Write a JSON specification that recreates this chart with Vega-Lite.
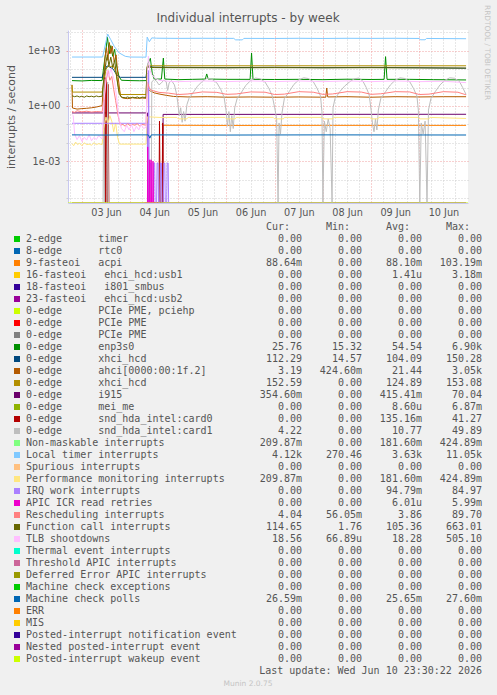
{
"$schema": "https://vega.github.io/schema/vega-lite/v6.json",
"autosize": {"type": "none"},
"width": 400,
"height": 173,
"padding": {"left": 68, "top": 30, "right": 29, "bottom": 492},
"background": "#f0f0f0",
"config": {"view": {"fill": "white", "stroke": null}, "font": "DejaVu Sans"},
"datasets": {
"series": [
{"i":0,"k":"timer","label":"2-edge\u00a0\u00a0\u00a0\u00a0\u00a0\u00a0timer","cur":"0.00\u00a0","min":"0.00\u00a0","avg":"0.00\u00a0","max":"0.00\u00a0"},
{"i":1,"k":"rtc0","label":"8-edge\u00a0\u00a0\u00a0\u00a0\u00a0\u00a0rtc0","cur":"0.00\u00a0","min":"0.00\u00a0","avg":"0.00\u00a0","max":"0.00\u00a0"},
{"i":2,"k":"acpi","label":"9-fasteoi\u00a0\u00a0\u00a0acpi","cur":"88.64m","min":"0.00\u00a0","avg":"88.10m","max":"103.19m"},
{"i":3,"k":"usb1","label":"16-fasteoi\u00a0\u00a0\u00a0ehci_hcd:usb1","cur":"0.00\u00a0","min":"0.00\u00a0","avg":"1.41u","max":"3.18m"},
{"i":4,"k":"smbus","label":"18-fasteoi\u00a0\u00a0\u00a0i801_smbus","cur":"0.00\u00a0","min":"0.00\u00a0","avg":"0.00\u00a0","max":"0.00\u00a0"},
{"i":5,"k":"usb2","label":"23-fasteoi\u00a0\u00a0\u00a0ehci_hcd:usb2","cur":"0.00\u00a0","min":"0.00\u00a0","avg":"0.00\u00a0","max":"0.00\u00a0"},
{"i":6,"k":"pme1","label":"0-edge\u00a0\u00a0\u00a0\u00a0\u00a0\u00a0PCIe PME, pciehp","cur":"0.00\u00a0","min":"0.00\u00a0","avg":"0.00\u00a0","max":"0.00\u00a0"},
{"i":7,"k":"pme2","label":"0-edge\u00a0\u00a0\u00a0\u00a0\u00a0\u00a0PCIe PME","cur":"0.00\u00a0","min":"0.00\u00a0","avg":"0.00\u00a0","max":"0.00\u00a0"},
{"i":8,"k":"pme3","label":"0-edge\u00a0\u00a0\u00a0\u00a0\u00a0\u00a0PCIe PME","cur":"0.00\u00a0","min":"0.00\u00a0","avg":"0.00\u00a0","max":"0.00\u00a0"},
{"i":9,"k":"enp","label":"0-edge\u00a0\u00a0\u00a0\u00a0\u00a0\u00a0enp3s0","cur":"25.76\u00a0","min":"15.32\u00a0","avg":"54.54\u00a0","max":"6.90k"},
{"i":10,"k":"xhci1","label":"0-edge\u00a0\u00a0\u00a0\u00a0\u00a0\u00a0xhci_hcd","cur":"112.29\u00a0","min":"14.57\u00a0","avg":"104.09\u00a0","max":"150.28\u00a0"},
{"i":11,"k":"ahci","label":"0-edge\u00a0\u00a0\u00a0\u00a0\u00a0\u00a0ahci[0000:00:1f.2]","cur":"3.19\u00a0","min":"424.60m","avg":"21.44\u00a0","max":"3.05k"},
{"i":12,"k":"xhci2","label":"0-edge\u00a0\u00a0\u00a0\u00a0\u00a0\u00a0xhci_hcd","cur":"152.59\u00a0","min":"0.00\u00a0","avg":"124.89\u00a0","max":"153.08\u00a0"},
{"i":13,"k":"i915","label":"0-edge\u00a0\u00a0\u00a0\u00a0\u00a0\u00a0i915","cur":"354.60m","min":"0.00\u00a0","avg":"415.41m","max":"70.04\u00a0"},
{"i":14,"k":"mei","label":"0-edge\u00a0\u00a0\u00a0\u00a0\u00a0\u00a0mei_me","cur":"0.00\u00a0","min":"0.00\u00a0","avg":"8.60u","max":"6.87m"},
{"i":15,"k":"card0","label":"0-edge\u00a0\u00a0\u00a0\u00a0\u00a0\u00a0snd_hda_intel:card0","cur":"0.00\u00a0","min":"0.00\u00a0","avg":"135.16m","max":"41.27\u00a0"},
{"i":16,"k":"card1","label":"0-edge\u00a0\u00a0\u00a0\u00a0\u00a0\u00a0snd_hda_intel:card1","cur":"4.22\u00a0","min":"0.00\u00a0","avg":"10.77\u00a0","max":"49.89\u00a0"},
{"i":17,"k":"nmi","label":"Non-maskable interrupts","cur":"209.87m","min":"0.00\u00a0","avg":"181.60m","max":"424.89m"},
{"i":18,"k":"loc","label":"Local timer interrupts","cur":"4.12k","min":"270.46\u00a0","avg":"3.63k","max":"11.05k"},
{"i":19,"k":"spu","label":"Spurious interrupts","cur":"0.00\u00a0","min":"0.00\u00a0","avg":"0.00\u00a0","max":"0.00\u00a0"},
{"i":20,"k":"pmi","label":"Performance monitoring interrupts","cur":"209.87m","min":"0.00\u00a0","avg":"181.60m","max":"424.89m"},
{"i":21,"k":"iwi","label":"IRQ work interrupts","cur":"0.00\u00a0","min":"0.00\u00a0","avg":"94.79m","max":"84.97\u00a0"},
{"i":22,"k":"rtr","label":"APIC ICR read retries","cur":"0.00\u00a0","min":"0.00\u00a0","avg":"6.01u","max":"5.99m"},
{"i":23,"k":"res","label":"Rescheduling interrupts","cur":"4.04\u00a0","min":"56.05m","avg":"3.86\u00a0","max":"89.70\u00a0"},
{"i":24,"k":"cal","label":"Function call interrupts","cur":"114.65\u00a0","min":"1.76\u00a0","avg":"105.36\u00a0","max":"663.01\u00a0"},
{"i":25,"k":"tlb","label":"TLB shootdowns","cur":"18.56\u00a0","min":"66.89u","avg":"18.28\u00a0","max":"505.10\u00a0"},
{"i":26,"k":"trm","label":"Thermal event interrupts","cur":"0.00\u00a0","min":"0.00\u00a0","avg":"0.00\u00a0","max":"0.00\u00a0"},
{"i":27,"k":"thr","label":"Threshold APIC interrupts","cur":"0.00\u00a0","min":"0.00\u00a0","avg":"0.00\u00a0","max":"0.00\u00a0"},
{"i":28,"k":"dfr","label":"Deferred Error APIC interrupts","cur":"0.00\u00a0","min":"0.00\u00a0","avg":"0.00\u00a0","max":"0.00\u00a0"},
{"i":29,"k":"mce","label":"Machine check exceptions","cur":"0.00\u00a0","min":"0.00\u00a0","avg":"0.00\u00a0","max":"0.00\u00a0"},
{"i":30,"k":"mcp","label":"Machine check polls","cur":"26.59m","min":"0.00\u00a0","avg":"25.65m","max":"27.60m"},
{"i":31,"k":"err","label":"ERR","cur":"0.00\u00a0","min":"0.00\u00a0","avg":"0.00\u00a0","max":"0.00\u00a0"},
{"i":32,"k":"mis","label":"MIS","cur":"0.00\u00a0","min":"0.00\u00a0","avg":"0.00\u00a0","max":"0.00\u00a0"},
{"i":33,"k":"pin","label":"Posted-interrupt notification event","cur":"0.00\u00a0","min":"0.00\u00a0","avg":"0.00\u00a0","max":"0.00\u00a0"},
{"i":34,"k":"npi","label":"Nested posted-interrupt event","cur":"0.00\u00a0","min":"0.00\u00a0","avg":"0.00\u00a0","max":"0.00\u00a0"},
{"i":35,"k":"piw","label":"Posted-interrupt wakeup event","cur":"0.00\u00a0","min":"0.00\u00a0","avg":"0.00\u00a0","max":"0.00\u00a0"}
],
"points": [
{"k":"acpi","d":4.4,"v":1e-7},{"k":"acpi","d":4.675,"v":1e-7},{"k":"acpi","d":4.685,"v":0.09},{"k":"acpi","d":6,"v":0.088},{"k":"acpi","d":8,"v":0.089},{"k":"acpi","d":10.97,"v":0.0886},

{"k":"enp","d":2.795,"v":24},{"k":"enp","d":3.0,"v":23},{"k":"enp","d":3.2,"v":24.5},{"k":"enp","d":3.42,"v":24},{"k":"enp","d":3.45,"v":115},{"k":"enp","d":3.49,"v":700},{"k":"enp","d":3.53,"v":5600},{"k":"enp","d":3.57,"v":700},{"k":"enp","d":3.6,"v":1900},{"k":"enp","d":3.64,"v":500},{"k":"enp","d":3.68,"v":1200},{"k":"enp","d":3.72,"v":150},{"k":"enp","d":3.77,"v":40},{"k":"enp","d":3.82,"v":25},{"k":"enp","d":4.0,"v":24},{"k":"enp","d":4.2,"v":23.5},{"k":"enp","d":4.34,"v":24},{"k":"enp","d":4.37,"v":200},{"k":"enp","d":4.42,"v":390},{"k":"enp","d":4.46,"v":60},{"k":"enp","d":4.5,"v":29},{"k":"enp","d":4.65,"v":29},{"k":"enp","d":4.69,"v":400},{"k":"enp","d":4.72,"v":29},{"k":"enp","d":5.0,"v":27},{"k":"enp","d":5.3,"v":28},{"k":"enp","d":5.56,"v":29},{"k":"enp","d":5.59,"v":55},{"k":"enp","d":5.62,"v":29},{"k":"enp","d":6.0,"v":28},{"k":"enp","d":6.49,"v":28},{"k":"enp","d":6.52,"v":750},{"k":"enp","d":6.55,"v":28},{"k":"enp","d":7.0,"v":27.5},{"k":"enp","d":7.5,"v":28},{"k":"enp","d":8.0,"v":27},{"k":"enp","d":8.5,"v":28.5},{"k":"enp","d":9.0,"v":27.5},{"k":"enp","d":9.27,"v":28},{"k":"enp","d":9.3,"v":480},{"k":"enp","d":9.33,"v":28},{"k":"enp","d":9.8,"v":28},{"k":"enp","d":10.3,"v":27},{"k":"enp","d":10.97,"v":26},

{"k":"xhci1","d":2.795,"v":36},{"k":"xhci1","d":3.42,"v":36},{"k":"xhci1","d":3.47,"v":80},{"k":"xhci1","d":3.52,"v":150},{"k":"xhci1","d":3.58,"v":130},{"k":"xhci1","d":3.65,"v":100},{"k":"xhci1","d":3.72,"v":50},{"k":"xhci1","d":3.8,"v":36},{"k":"xhci1","d":4.33,"v":36},{"k":"xhci1","d":4.36,"v":140},{"k":"xhci1","d":4.5,"v":128},{"k":"xhci1","d":5.0,"v":125},{"k":"xhci1","d":6.0,"v":122},{"k":"xhci1","d":7.0,"v":126},{"k":"xhci1","d":8.0,"v":121},{"k":"xhci1","d":9.0,"v":125},{"k":"xhci1","d":10.0,"v":120},{"k":"xhci1","d":10.97,"v":112},

{"k":"ahci","d":2.795,"v":14},{"k":"ahci","d":2.805,"v":0.78},{"k":"ahci","d":2.9,"v":0.68},{"k":"ahci","d":3.0,"v":0.72},{"k":"ahci","d":3.1,"v":0.75},{"k":"ahci","d":3.2,"v":0.8},{"k":"ahci","d":3.3,"v":0.88},{"k":"ahci","d":3.42,"v":1.05},{"k":"ahci","d":3.45,"v":25},{"k":"ahci","d":3.48,"v":400},{"k":"ahci","d":3.51,"v":1500},{"k":"ahci","d":3.54,"v":300},{"k":"ahci","d":3.57,"v":2800},{"k":"ahci","d":3.6,"v":700},{"k":"ahci","d":3.63,"v":1800},{"k":"ahci","d":3.67,"v":250},{"k":"ahci","d":3.71,"v":600},{"k":"ahci","d":3.75,"v":40},{"k":"ahci","d":3.8,"v":3.5},{"k":"ahci","d":3.85,"v":2.7},{"k":"ahci","d":3.95,"v":2.5},{"k":"ahci","d":4.05,"v":2.8},{"k":"ahci","d":4.15,"v":2.6},{"k":"ahci","d":4.25,"v":2.7},{"k":"ahci","d":4.33,"v":2.6},{"k":"ahci","d":4.36,"v":9},{"k":"ahci","d":4.42,"v":6.5},{"k":"ahci","d":4.5,"v":5.2},{"k":"ahci","d":4.6,"v":4.5},{"k":"ahci","d":4.75,"v":3.8},{"k":"ahci","d":4.9,"v":3.3},{"k":"ahci","d":5.2,"v":3.1},{"k":"ahci","d":5.6,"v":3.2},{"k":"ahci","d":6.0,"v":3.0},{"k":"ahci","d":6.5,"v":3.1},{"k":"ahci","d":7.0,"v":3.0},{"k":"ahci","d":7.5,"v":3.1},{"k":"ahci","d":8.06,"v":3.0},{"k":"ahci","d":8.08,"v":9.5},{"k":"ahci","d":8.1,"v":3.1},{"k":"ahci","d":8.5,"v":3.2},{"k":"ahci","d":9.0,"v":3.0},{"k":"ahci","d":9.5,"v":3.2},{"k":"ahci","d":10.0,"v":3.1},{"k":"ahci","d":10.5,"v":3.2},{"k":"ahci","d":10.97,"v":3.19},

{"k":"xhci2","d":2.795,"v":14},{"k":"xhci2","d":2.805,"v":5.7},{"k":"xhci2","d":3.42,"v":5.7},{"k":"xhci2","d":3.46,"v":20},{"k":"xhci2","d":3.5,"v":100},{"k":"xhci2","d":3.55,"v":150},{"k":"xhci2","d":3.6,"v":140},{"k":"xhci2","d":3.66,"v":150},{"k":"xhci2","d":3.71,"v":60},{"k":"xhci2","d":3.76,"v":10},{"k":"xhci2","d":3.8,"v":4.2},{"k":"xhci2","d":4.33,"v":4.2},{"k":"xhci2","d":4.355,"v":153},{"k":"xhci2","d":7,"v":152.8},{"k":"xhci2","d":10.97,"v":152.6},

{"k":"i915","d":2.795,"v":0.42},{"k":"i915","d":4.36,"v":0.42},{"k":"i915","d":4.375,"v":1e-7},{"k":"i915","d":4.675,"v":1e-7},{"k":"i915","d":4.685,"v":0.35},{"k":"i915","d":10.97,"v":0.355},

{"k":"card0","d":2.795,"v":1e-7},{"k":"card0","d":3.47,"v":1e-7},{"k":"card0","d":3.48,"v":35},{"k":"card0","d":3.495,"v":1e-7},{"k":"card0","d":3.51,"v":41},{"k":"card0","d":3.525,"v":1e-7},{"k":"card0","d":3.545,"v":15},{"k":"card0","d":3.56,"v":1e-7},{"k":"card0","d":4.6,"v":1e-7},{"k":"card0","d":4.61,"v":0.15},{"k":"card0","d":4.625,"v":1e-7},{"k":"card0","d":4.665,"v":1e-7},{"k":"card0","d":4.675,"v":0.12},{"k":"card0","d":4.69,"v":1e-7},{"k":"card0","d":10.97,"v":1e-7},

{"k":"card1","d":2.795,"v":1e-7},{"k":"card1","d":3.44,"v":1e-7},{"k":"card1","d":3.455,"v":30},{"k":"card1","d":3.47,"v":1e-7},{"k":"card1","d":3.52,"v":1e-7},{"k":"card1","d":3.535,"v":20},{"k":"card1","d":3.55,"v":1e-7},{"k":"card1","d":4.44,"v":1e-7},
{"k":"card1","d":4.45,"v":20},{"k":"card1","d":4.5,"v":28},{"k":"card1","d":4.55,"v":22},{"k":"card1","d":4.6,"v":14},{"k":"card1","d":4.65,"v":18},{"k":"card1","d":4.7,"v":26},{"k":"card1","d":4.75,"v":20},{"k":"card1","d":4.78,"v":7},{"k":"card1","d":4.81,"v":18},{"k":"card1","d":4.86,"v":24},{"k":"card1","d":4.92,"v":14},{"k":"card1","d":4.96,"v":5},{"k":"card1","d":4.99,"v":1.5},{"k":"card1","d":5.02,"v":0.3},{"k":"card1","d":5.05,"v":0.8},{"k":"card1","d":5.08,"v":0.13},{"k":"card1","d":5.11,"v":0.5},{"k":"card1","d":5.14,"v":0.15},{"k":"card1","d":5.18,"v":1.2},{"k":"card1","d":5.22,"v":2.5},
{"k":"card1","d":5.3,"v":5},{"k":"card1","d":5.4,"v":12},{"k":"card1","d":5.5,"v":22},{"k":"card1","d":5.6,"v":32},{"k":"card1","d":5.7,"v":28},{"k":"card1","d":5.8,"v":18},{"k":"card1","d":5.88,"v":8},{"k":"card1","d":5.95,"v":3},
{"k":"card1","d":5.99,"v":0.6},{"k":"card1","d":6.02,"v":0.08},{"k":"card1","d":6.05,"v":0.5},{"k":"card1","d":6.08,"v":0.04},{"k":"card1","d":6.11,"v":0.3},{"k":"card1","d":6.14,"v":0.06},{"k":"card1","d":6.17,"v":0.8},{"k":"card1","d":6.22,"v":2.5},
{"k":"card1","d":6.3,"v":5},{"k":"card1","d":6.4,"v":13},{"k":"card1","d":6.5,"v":24},{"k":"card1","d":6.6,"v":33},{"k":"card1","d":6.7,"v":30},{"k":"card1","d":6.8,"v":20},{"k":"card1","d":6.88,"v":9},{"k":"card1","d":6.95,"v":3.5},
{"k":"card1","d":7.0,"v":0.8},{"k":"card1","d":7.04,"v":0.2},{"k":"card1","d":7.07,"v":1e-7},{"k":"card1","d":7.09,"v":0.12},{"k":"card1","d":7.12,"v":0.03},{"k":"card1","d":7.15,"v":0.4},{"k":"card1","d":7.2,"v":2.5},
{"k":"card1","d":7.3,"v":6},{"k":"card1","d":7.4,"v":15},{"k":"card1","d":7.5,"v":26},{"k":"card1","d":7.6,"v":34},{"k":"card1","d":7.7,"v":31},{"k":"card1","d":7.8,"v":21},{"k":"card1","d":7.88,"v":9},{"k":"card1","d":7.95,"v":3.5},
{"k":"card1","d":7.98,"v":0.5},{"k":"card1","d":8.0,"v":1e-7},{"k":"card1","d":8.03,"v":0.15},{"k":"card1","d":8.07,"v":0.04},{"k":"card1","d":8.11,"v":0.2},{"k":"card1","d":8.15,"v":0.06},{"k":"card1","d":8.19,"v":1e-7},{"k":"card1","d":8.21,"v":0.8},{"k":"card1","d":8.25,"v":2.5},
{"k":"card1","d":8.35,"v":6},{"k":"card1","d":8.45,"v":12},{"k":"card1","d":8.55,"v":20},{"k":"card1","d":8.65,"v":30},{"k":"card1","d":8.75,"v":33},{"k":"card1","d":8.83,"v":22},{"k":"card1","d":8.9,"v":10},{"k":"card1","d":8.96,"v":4},
{"k":"card1","d":9.0,"v":0.6},{"k":"card1","d":9.03,"v":0.1},{"k":"card1","d":9.06,"v":0.04},{"k":"card1","d":9.09,"v":0.2},{"k":"card1","d":9.12,"v":0.05},{"k":"card1","d":9.15,"v":0.6},{"k":"card1","d":9.2,"v":2.5},
{"k":"card1","d":9.3,"v":6},{"k":"card1","d":9.4,"v":14},{"k":"card1","d":9.5,"v":25},{"k":"card1","d":9.6,"v":34},{"k":"card1","d":9.7,"v":31},{"k":"card1","d":9.8,"v":21},{"k":"card1","d":9.88,"v":9},{"k":"card1","d":9.95,"v":3.5},
{"k":"card1","d":9.98,"v":0.6},{"k":"card1","d":10.01,"v":1e-7},{"k":"card1","d":10.04,"v":0.12},{"k":"card1","d":10.08,"v":0.03},{"k":"card1","d":10.12,"v":0.15},{"k":"card1","d":10.16,"v":1e-7},{"k":"card1","d":10.19,"v":0.6},{"k":"card1","d":10.24,"v":2.5},
{"k":"card1","d":10.33,"v":6},{"k":"card1","d":10.43,"v":14},{"k":"card1","d":10.53,"v":25},{"k":"card1","d":10.63,"v":34},{"k":"card1","d":10.73,"v":32},{"k":"card1","d":10.83,"v":22},{"k":"card1","d":10.9,"v":10},{"k":"card1","d":10.97,"v":4.22},

{"k":"loc","d":2.795,"v":456},{"k":"loc","d":3.43,"v":456},{"k":"loc","d":3.535,"v":8100},{"k":"loc","d":3.6,"v":3950},{"k":"loc","d":3.67,"v":1750},{"k":"loc","d":3.775,"v":760},{"k":"loc","d":3.9,"v":500},{"k":"loc","d":4.0,"v":456},{"k":"loc","d":4.33,"v":450},{"k":"loc","d":4.355,"v":5500},{"k":"loc","d":4.4,"v":3100},{"k":"loc","d":4.45,"v":5000},{"k":"loc","d":4.55,"v":4800},{"k":"loc","d":5.0,"v":4700},{"k":"loc","d":5.5,"v":4750},{"k":"loc","d":6.15,"v":4700},{"k":"loc","d":6.19,"v":3900},{"k":"loc","d":6.33,"v":3900},{"k":"loc","d":6.36,"v":4700},{"k":"loc","d":7.0,"v":4650},{"k":"loc","d":7.5,"v":4750},{"k":"loc","d":8.0,"v":4650},{"k":"loc","d":8.5,"v":4750},{"k":"loc","d":9.0,"v":4700},{"k":"loc","d":9.5,"v":4750},{"k":"loc","d":10.0,"v":4650},{"k":"loc","d":10.02,"v":3950},{"k":"loc","d":10.12,"v":3950},{"k":"loc","d":10.15,"v":4650},{"k":"loc","d":10.97,"v":4500},

{"k":"pmi","d":2.795,"v":0.009},{"k":"pmi","d":2.83,"v":0.007},{"k":"pmi","d":2.87,"v":0.011},{"k":"pmi","d":2.91,"v":0.008},{"k":"pmi","d":2.95,"v":0.0095},{"k":"pmi","d":3.0,"v":0.007},{"k":"pmi","d":3.05,"v":0.01},{"k":"pmi","d":3.1,"v":0.008},{"k":"pmi","d":3.15,"v":0.0085},{"k":"pmi","d":3.2,"v":0.0075},{"k":"pmi","d":3.25,"v":0.01},{"k":"pmi","d":3.3,"v":0.008},{"k":"pmi","d":3.35,"v":0.009},{"k":"pmi","d":3.42,"v":0.008},{"k":"pmi","d":3.45,"v":0.06},{"k":"pmi","d":3.5,"v":0.25},{"k":"pmi","d":3.54,"v":0.1},{"k":"pmi","d":3.58,"v":0.3},{"k":"pmi","d":3.62,"v":0.15},{"k":"pmi","d":3.66,"v":0.04},{"k":"pmi","d":3.7,"v":0.12},{"k":"pmi","d":3.74,"v":0.02},{"k":"pmi","d":3.78,"v":0.0085},{"k":"pmi","d":4.33,"v":0.0085},{"k":"pmi","d":4.36,"v":0.26},{"k":"pmi","d":4.6,"v":0.24},{"k":"pmi","d":4.97,"v":0.24},{"k":"pmi","d":5.0,"v":0.2},{"k":"pmi","d":5.18,"v":0.2},{"k":"pmi","d":5.2,"v":0.24},{"k":"pmi","d":5.97,"v":0.24},{"k":"pmi","d":6.0,"v":0.2},{"k":"pmi","d":6.18,"v":0.2},{"k":"pmi","d":6.2,"v":0.24},{"k":"pmi","d":6.97,"v":0.24},{"k":"pmi","d":7.0,"v":0.2},{"k":"pmi","d":7.18,"v":0.2},{"k":"pmi","d":7.2,"v":0.24},{"k":"pmi","d":7.97,"v":0.24},{"k":"pmi","d":8.0,"v":0.2},{"k":"pmi","d":8.2,"v":0.2},{"k":"pmi","d":8.22,"v":0.24},{"k":"pmi","d":8.98,"v":0.24},{"k":"pmi","d":9.0,"v":0.2},{"k":"pmi","d":9.14,"v":0.2},{"k":"pmi","d":9.16,"v":0.24},{"k":"pmi","d":9.97,"v":0.24},{"k":"pmi","d":10.0,"v":0.2},{"k":"pmi","d":10.2,"v":0.2},{"k":"pmi","d":10.22,"v":0.24},{"k":"pmi","d":10.97,"v":0.21},

{"k":"iwi","d":2.795,"v":0.115},{"k":"iwi","d":4.355,"v":0.115},{"k":"iwi","d":4.37,"v":1e-7},{"k":"iwi","d":4.385,"v":85},{"k":"iwi","d":4.4,"v":1e-7},{"k":"iwi","d":4.42,"v":0.0008},{"k":"iwi","d":4.44,"v":0.0008},{"k":"iwi","d":4.45,"v":1e-7},{"k":"iwi","d":4.48,"v":1e-7},{"k":"iwi","d":4.49,"v":0.0008},{"k":"iwi","d":4.51,"v":0.0008},{"k":"iwi","d":4.52,"v":1e-7},{"k":"iwi","d":4.55,"v":1e-7},{"k":"iwi","d":4.56,"v":0.0008},{"k":"iwi","d":4.58,"v":0.0008},{"k":"iwi","d":4.59,"v":1e-7},{"k":"iwi","d":4.62,"v":1e-7},{"k":"iwi","d":4.63,"v":0.0008},{"k":"iwi","d":4.65,"v":0.0008},{"k":"iwi","d":4.66,"v":1e-7},{"k":"iwi","d":4.69,"v":1e-7},{"k":"iwi","d":4.7,"v":0.0008},{"k":"iwi","d":4.72,"v":0.0008},{"k":"iwi","d":4.73,"v":1e-7},{"k":"iwi","d":4.76,"v":1e-7},{"k":"iwi","d":4.77,"v":0.0008},{"k":"iwi","d":4.79,"v":0.0008},{"k":"iwi","d":4.8,"v":1e-7},{"k":"iwi","d":10.97,"v":1e-7},

{"k":"rtr","d":4.3,"v":1e-7},{"k":"rtr","d":4.36,"v":1e-7},{"k":"rtr","d":4.365,"v":0.006},{"k":"rtr","d":4.375,"v":1e-7},{"k":"rtr","d":4.4,"v":1e-7},{"k":"rtr","d":4.405,"v":0.0012},{"k":"rtr","d":4.415,"v":1e-7},{"k":"rtr","d":4.43,"v":1e-7},{"k":"rtr","d":4.435,"v":0.0012},{"k":"rtr","d":4.445,"v":1e-7},{"k":"rtr","d":4.47,"v":1e-7},{"k":"rtr","d":4.475,"v":0.001},{"k":"rtr","d":4.485,"v":1e-7},{"k":"rtr","d":4.6,"v":1e-7},

{"k":"res","d":2.795,"v":0.5},{"k":"res","d":2.85,"v":0.45},{"k":"res","d":2.9,"v":0.55},{"k":"res","d":3.0,"v":0.48},{"k":"res","d":3.1,"v":0.52},{"k":"res","d":3.2,"v":0.47},{"k":"res","d":3.3,"v":0.5},{"k":"res","d":3.42,"v":0.48},{"k":"res","d":3.46,"v":3},{"k":"res","d":3.5,"v":20},{"k":"res","d":3.54,"v":85},{"k":"res","d":3.58,"v":25},{"k":"res","d":3.62,"v":40},{"k":"res","d":3.66,"v":8},{"k":"res","d":3.7,"v":2},{"k":"res","d":3.75,"v":0.3},{"k":"res","d":3.8,"v":0.09},{"k":"res","d":3.85,"v":0.1},{"k":"res","d":3.9,"v":0.08},{"k":"res","d":3.95,"v":0.11},{"k":"res","d":4.0,"v":0.085},{"k":"res","d":4.05,"v":0.1},{"k":"res","d":4.1,"v":0.09},{"k":"res","d":4.15,"v":0.11},{"k":"res","d":4.2,"v":0.08},{"k":"res","d":4.25,"v":0.1},{"k":"res","d":4.33,"v":0.09},{"k":"res","d":4.36,"v":20},{"k":"res","d":4.4,"v":9},{"k":"res","d":4.45,"v":7},{"k":"res","d":4.5,"v":6.5},{"k":"res","d":4.6,"v":5.5},{"k":"res","d":4.8,"v":5},{"k":"res","d":5.0,"v":4.2},{"k":"res","d":5.2,"v":4.5},{"k":"res","d":5.5,"v":5.8},{"k":"res","d":5.8,"v":5.5},{"k":"res","d":6.0,"v":4.3},{"k":"res","d":6.2,"v":4.5},{"k":"res","d":6.5,"v":5.8},{"k":"res","d":6.8,"v":5.6},{"k":"res","d":7.0,"v":4.2},{"k":"res","d":7.2,"v":4.4},{"k":"res","d":7.5,"v":6},{"k":"res","d":7.8,"v":5.6},{"k":"res","d":8.0,"v":4.3},{"k":"res","d":8.2,"v":4.5},{"k":"res","d":8.5,"v":6},{"k":"res","d":8.8,"v":5.7},{"k":"res","d":9.0,"v":4.3},{"k":"res","d":9.2,"v":4.6},{"k":"res","d":9.5,"v":6},{"k":"res","d":9.8,"v":5.8},{"k":"res","d":10.0,"v":4.2},{"k":"res","d":10.2,"v":4.4},{"k":"res","d":10.5,"v":6},{"k":"res","d":10.8,"v":5.6},{"k":"res","d":10.97,"v":4.04},

{"k":"cal","d":2.795,"v":3.6},{"k":"cal","d":2.85,"v":3.2},{"k":"cal","d":2.9,"v":3.5},{"k":"cal","d":2.95,"v":3.1},{"k":"cal","d":3.0,"v":3.4},{"k":"cal","d":3.05,"v":3.0},{"k":"cal","d":3.1,"v":3.5},{"k":"cal","d":3.15,"v":3.2},{"k":"cal","d":3.2,"v":3.4},{"k":"cal","d":3.25,"v":3.1},{"k":"cal","d":3.3,"v":3.5},{"k":"cal","d":3.35,"v":3.2},{"k":"cal","d":3.42,"v":3.4},{"k":"cal","d":3.46,"v":40},{"k":"cal","d":3.5,"v":250},{"k":"cal","d":3.53,"v":600},{"k":"cal","d":3.56,"v":150},{"k":"cal","d":3.6,"v":450},{"k":"cal","d":3.64,"v":120},{"k":"cal","d":3.68,"v":300},{"k":"cal","d":3.72,"v":40},{"k":"cal","d":3.77,"v":5},{"k":"cal","d":3.82,"v":3.0},{"k":"cal","d":3.9,"v":2.8},{"k":"cal","d":3.95,"v":3.1},{"k":"cal","d":4.0,"v":2.7},{"k":"cal","d":4.05,"v":3.0},{"k":"cal","d":4.1,"v":2.8},{"k":"cal","d":4.15,"v":3.1},{"k":"cal","d":4.2,"v":2.7},{"k":"cal","d":4.25,"v":3.0},{"k":"cal","d":4.33,"v":2.9},{"k":"cal","d":4.355,"v":130},{"k":"cal","d":4.5,"v":122},{"k":"cal","d":5.0,"v":120},{"k":"cal","d":6.0,"v":118},{"k":"cal","d":7.0,"v":121},{"k":"cal","d":8.0,"v":118},{"k":"cal","d":9.0,"v":120},{"k":"cal","d":10.0,"v":117},{"k":"cal","d":10.97,"v":114.65},

{"k":"tlb","d":2.795,"v":0.35},{"k":"tlb","d":2.82,"v":0.3},{"k":"tlb","d":2.85,"v":0.03},{"k":"tlb","d":2.9,"v":0.015},{"k":"tlb","d":2.95,"v":0.025},{"k":"tlb","d":3.0,"v":0.012},{"k":"tlb","d":3.05,"v":0.02},{"k":"tlb","d":3.1,"v":0.014},{"k":"tlb","d":3.15,"v":0.028},{"k":"tlb","d":3.2,"v":0.013},{"k":"tlb","d":3.25,"v":0.02},{"k":"tlb","d":3.3,"v":0.015},{"k":"tlb","d":3.35,"v":0.025},{"k":"tlb","d":3.42,"v":0.016},{"k":"tlb","d":3.46,"v":2},{"k":"tlb","d":3.5,"v":30},{"k":"tlb","d":3.53,"v":90},{"k":"tlb","d":3.56,"v":40},{"k":"tlb","d":3.6,"v":110},{"k":"tlb","d":3.64,"v":50},{"k":"tlb","d":3.68,"v":20},{"k":"tlb","d":3.72,"v":3},{"k":"tlb","d":3.77,"v":0.2},{"k":"tlb","d":3.82,"v":0.06},{"k":"tlb","d":3.88,"v":0.04},{"k":"tlb","d":3.93,"v":0.09},{"k":"tlb","d":3.98,"v":0.05},{"k":"tlb","d":4.03,"v":0.1},{"k":"tlb","d":4.08,"v":0.04},{"k":"tlb","d":4.13,"v":0.08},{"k":"tlb","d":4.18,"v":0.05},{"k":"tlb","d":4.23,"v":0.1},{"k":"tlb","d":4.28,"v":0.06},{"k":"tlb","d":4.33,"v":0.07},{"k":"tlb","d":4.36,"v":60},{"k":"tlb","d":4.38,"v":505},{"k":"tlb","d":4.41,"v":90},{"k":"tlb","d":4.45,"v":50},{"k":"tlb","d":4.5,"v":35},{"k":"tlb","d":4.6,"v":25},{"k":"tlb","d":4.8,"v":22},{"k":"tlb","d":5.0,"v":21},{"k":"tlb","d":5.5,"v":23},{"k":"tlb","d":6.0,"v":21},{"k":"tlb","d":6.5,"v":23},{"k":"tlb","d":7.0,"v":21},{"k":"tlb","d":7.5,"v":23},{"k":"tlb","d":8.0,"v":21},{"k":"tlb","d":8.5,"v":23},{"k":"tlb","d":9.0,"v":21},{"k":"tlb","d":9.5,"v":23},{"k":"tlb","d":10.0,"v":21},{"k":"tlb","d":10.5,"v":22},{"k":"tlb","d":10.97,"v":18.56},

{"k":"mcp","d":2.795,"v":0.027},{"k":"mcp","d":3.5,"v":0.0265},{"k":"mcp","d":4.0,"v":0.027},{"k":"mcp","d":4.38,"v":0.027},{"k":"mcp","d":4.41,"v":0.018},{"k":"mcp","d":4.44,"v":0.027},{"k":"mcp","d":6.0,"v":0.0265},{"k":"mcp","d":8.0,"v":0.027},{"k":"mcp","d":10.97,"v":0.0266},

{"k":"piw","d":2.712,"v":1e-7},{"k":"piw","d":11.01,"v":1e-7}
]
},
"resolve": {"scale": {"x": "independent", "y": "independent"}},
"layer": [
{
"data": {"name": "points"},
"mark": {"type": "line", "strokeWidth": 1, "clip": true},
"encoding": {
"x": {"field": "d", "type": "quantitative", "scale": {"domain": [2.712, 11.01], "nice": false, "zero": false},
"axis": {"title": null, "values": [2.75,3,3.25,3.5,3.75,4,4.25,4.5,4.75,5,5.25,5.5,5.75,6,6.25,6.5,6.75,7,7.25,7.5,7.75,8,8.25,8.5,8.75,9,9.25,9.5,9.75,10,10.25,10.5,10.75],
"labelExpr": "datum.value % 1 == 0.5 ? ((datum.value < 10 ? '0' : '') + floor(datum.value) + ' Jun') : ''",
"labelFont": "DejaVu Sans", "labelFontSize": 9.7, "labelColor": "#555555", "labelPadding": 4, "labelOverlap": false, "labelFlush": false,
"ticks": false, "domainColor": "#c8c8f0", "domainWidth": 1,
"grid": true, "gridDash": [1, 2], "gridWidth": 1,
"gridColor": {"condition": {"test": "datum.value % 1 == 0", "value": "#f0a0a0"}, "value": "#cfcfcf"}}},
"y": {"field": "v", "type": "quantitative", "scale": {"type": "log", "domain": [5.4e-6, 13400], "nice": false, "clamp": true},
"axis": {"title": "interrupts / second", "titleFont": "DejaVu Sans", "titleFontSize": 11, "titleFontWeight": "normal", "titleColor": "#555555", "titleX": -57, "titleY": 86.5, "titleAngle": 270, "titleBaseline": "middle", "titleAlign": "center",
"values": [0.00001, 0.0001, 0.001, 0.01, 0.1, 1, 10, 100, 1000, 10000],
"labelExpr": "datum.value > 999 && datum.value < 1001 ? '1e+03' : (datum.value > 0.999 && datum.value < 1.001 ? '1e+00' : (datum.value > 0.000999 && datum.value < 0.001001 ? '1e-03' : ''))",
"labelFont": "DejaVu Sans", "labelFontSize": 9.7, "labelColor": "#555555", "labelPadding": 6, "labelOverlap": false, "labelFlush": false,
"ticks": true, "tickSize": 2, "tickColor": {"condition": {"test": "(datum.value > 999 && datum.value < 1001) || (datum.value > 0.999 && datum.value < 1.001) || (datum.value > 0.000999 && datum.value < 0.001001)", "value": "#f0a0a0"}, "value": "#cfcfcf"},
"domainColor": "#c8c8f0", "domainWidth": 1,
"grid": true, "gridDash": [1, 2], "gridWidth": 1,
"gridColor": {"condition": {"test": "(datum.value > 999 && datum.value < 1001) || (datum.value > 0.999 && datum.value < 1.001) || (datum.value > 0.000999 && datum.value < 0.001001)", "value": "#f0a0a0"}, "value": "#cfcfcf"}}},
"color": {"field": "k", "type": "nominal", "legend": null,
"scale": {"domain": ["timer","rtc0","acpi","usb1","smbus","usb2","pme1","pme2","pme3","enp","xhci1","ahci","xhci2","i915","mei","card0","card1","nmi","loc","spu","pmi","iwi","rtr","res","cal","tlb","trm","thr","dfr","mce","mcp","err","mis","pin","npi","piw"],
"range": ["#00CC00","#0066B3","#FF8000","#FFCC00","#330099","#990099","#CCFF00","#FF0000","#808080","#008F00","#00487D","#B35A00","#B38F00","#6B006B","#8FB300","#B30000","#BEBEBE","#80FF80","#80C9FF","#FFC080","#FFE680","#AA80FF","#EE00CC","#FF8080","#666600","#FFBFFF","#00FFCC","#CC6699","#999900","#00CC00","#0066B3","#FF8000","#FFCC00","#330099","#990099","#CCFF00"]}}
}
},
{
"data": {"name": "series"},
"layer": [
{
"mark": {"type": "square", "size": 36, "filled": true, "opacity": 1},
"encoding": {
"x": {"datum": -1.5, "type": "quantitative", "scale": {"domain": [0, 76], "range": [-42, 414], "nice": false, "zero": false}, "axis": null},
"y": {"field": "i", "type": "quantitative", "scale": {"domain": [0, 36], "range": [209, 641], "nice": false, "zero": false}, "axis": null},
"color": {"field": "k", "type": "nominal", "legend": null}
}
},
{
"mark": {"type": "text", "align": "left", "baseline": "middle", "font": "DejaVu Sans Mono", "fontSize": 10, "color": "#555555"},
"encoding": {"x": {"datum": 0, "type": "quantitative"}, "y": {"field": "i", "type": "quantitative"}, "text": {"field": "label"}}
},
{
"mark": {"type": "text", "align": "right", "baseline": "middle", "font": "DejaVu Sans Mono", "fontSize": 10, "color": "#555555"},
"encoding": {"x": {"datum": 46, "type": "quantitative"}, "y": {"field": "i", "type": "quantitative"}, "text": {"field": "cur"}}
},
{
"mark": {"type": "text", "align": "right", "baseline": "middle", "font": "DejaVu Sans Mono", "fontSize": 10, "color": "#555555"},
"encoding": {"x": {"datum": 56, "type": "quantitative"}, "y": {"field": "i", "type": "quantitative"}, "text": {"field": "min"}}
},
{
"mark": {"type": "text", "align": "right", "baseline": "middle", "font": "DejaVu Sans Mono", "fontSize": 10, "color": "#555555"},
"encoding": {"x": {"datum": 66, "type": "quantitative"}, "y": {"field": "i", "type": "quantitative"}, "text": {"field": "avg"}}
},
{
"mark": {"type": "text", "align": "right", "baseline": "middle", "font": "DejaVu Sans Mono", "fontSize": 10, "color": "#555555"},
"encoding": {"x": {"datum": 76, "type": "quantitative"}, "y": {"field": "i", "type": "quantitative"}, "text": {"field": "max"}}
},
{
"data": {"values": [{"h": "Cur:"}]},
"mark": {"type": "text", "align": "right", "baseline": "middle", "font": "DejaVu Sans Mono", "fontSize": 10, "color": "#555555"},
"encoding": {"x": {"datum": 44, "type": "quantitative"}, "y": {"datum": -1, "type": "quantitative"}, "text": {"field": "h"}}
},
{
"data": {"values": [{"h": "Min:"}]},
"mark": {"type": "text", "align": "right", "baseline": "middle", "font": "DejaVu Sans Mono", "fontSize": 10, "color": "#555555"},
"encoding": {"x": {"datum": 54, "type": "quantitative"}, "y": {"datum": -1, "type": "quantitative"}, "text": {"field": "h"}}
},
{
"data": {"values": [{"h": "Avg:"}]},
"mark": {"type": "text", "align": "right", "baseline": "middle", "font": "DejaVu Sans Mono", "fontSize": 10, "color": "#555555"},
"encoding": {"x": {"datum": 64, "type": "quantitative"}, "y": {"datum": -1, "type": "quantitative"}, "text": {"field": "h"}}
},
{
"data": {"values": [{"h": "Max:"}]},
"mark": {"type": "text", "align": "right", "baseline": "middle", "font": "DejaVu Sans Mono", "fontSize": 10, "color": "#555555"},
"encoding": {"x": {"datum": 74, "type": "quantitative"}, "y": {"datum": -1, "type": "quantitative"}, "text": {"field": "h"}}
},
{
"data": {"values": [{"t": "Last update: Wed Jun 10 23:30:22 2026"}]},
"mark": {"type": "text", "align": "right", "baseline": "middle", "font": "DejaVu Sans Mono", "fontSize": 10, "color": "#555555"},
"encoding": {"x": {"datum": 76, "type": "quantitative"}, "y": {"datum": 36, "type": "quantitative"}, "text": {"field": "t"}}
},
{
"data": {"values": [{"t": "Munin 2.0.75"}]},
"mark": {"type": "text", "align": "center", "baseline": "middle", "font": "DejaVu Sans", "fontSize": 7.5, "color": "#c4c4c4"},
"encoding": {"x": {"datum": 37, "type": "quantitative"}, "y": {"datum": 37.1, "type": "quantitative"}, "text": {"field": "t"}}
},
{
"data": {"values": [{"t": "RRDTOOL / TOBI OETIKER"}]},
"mark": {"type": "text", "align": "left", "baseline": "middle", "angle": 90, "font": "DejaVu Sans", "fontSize": 7.4, "color": "#c4c4c4"},
"encoding": {"x": {"datum": 76.83, "type": "quantitative"}, "y": {"datum": -19.5, "type": "quantitative"}, "text": {"field": "t"}}
},
{
"data": {"values": [{"t": "Individual interrupts - by week"}]},
"mark": {"type": "text", "align": "center", "baseline": "middle", "font": "DejaVu Sans", "fontSize": 12, "color": "#555555"},
"encoding": {"x": {"datum": 37, "type": "quantitative"}, "y": {"datum": -18.4, "type": "quantitative"}, "text": {"field": "t"}}
}
]
}
]
}
